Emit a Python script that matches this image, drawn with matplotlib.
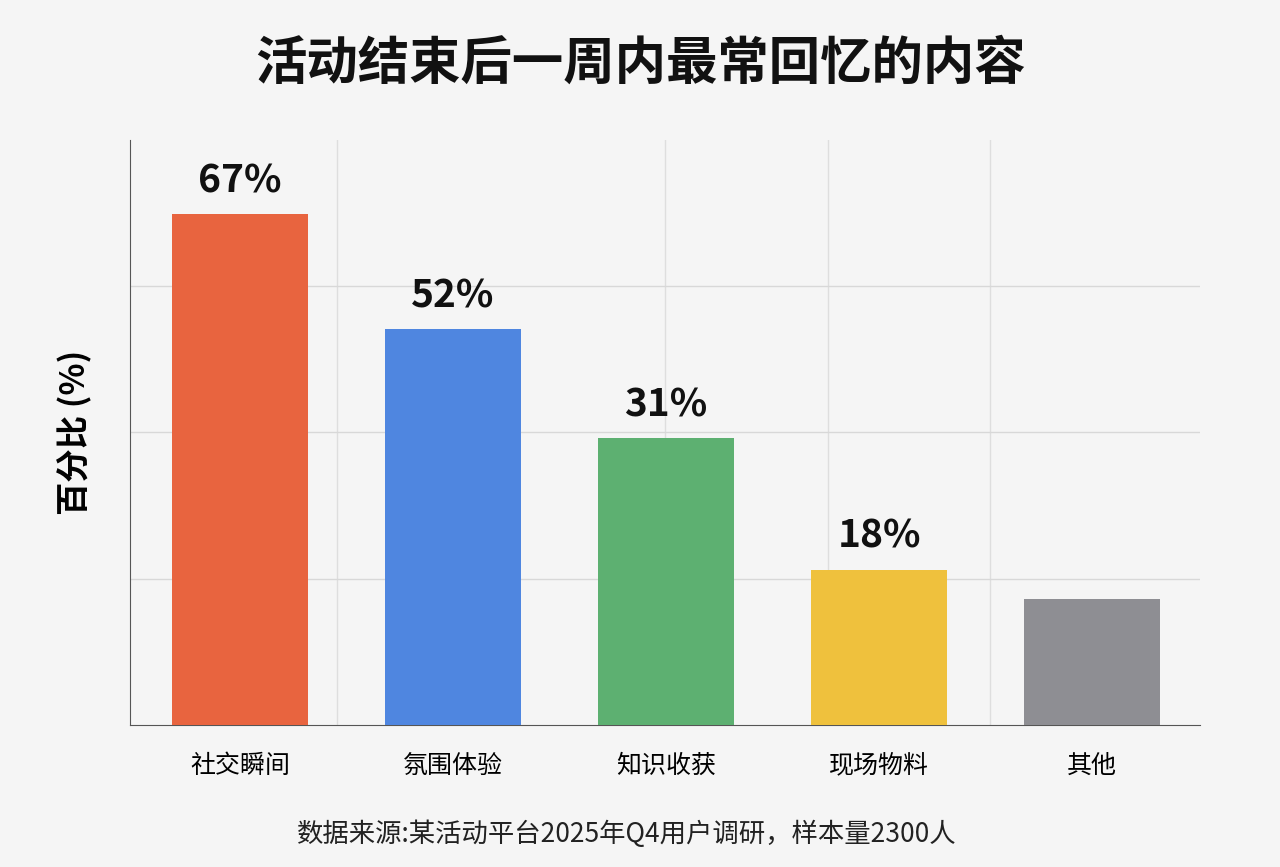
import matplotlib.pyplot as plt

plt.rcParams['font.family'] = ['Noto Sans CJK SC', 'DejaVu Sans']

categories = ['社交瞬间', '氛围体验', '知识收获', '现场物料', '其他']
heights = [67, 52, 37.6, 20.4, 16.5]   # bar heights as drawn
labels = ['67%', '52%', '31%', '18%', '']
colors = ['#E8643F', '#4F86E0', '#5DB071', '#EFC13D', '#8E8E93']

fig = plt.figure(figsize=(12.8, 8.67), dpi=100, facecolor='#F5F5F5')
ax = fig.add_axes([0.1016, 0.1638, 0.836, 0.675])
ax.set_facecolor('#F5F5F5')

x = range(len(categories))
bars = ax.bar(x, heights, width=0.64, color=colors, zorder=3)
for b, lab in zip(bars, labels):
    if lab:
        ax.text(b.get_x() + b.get_width() / 2, b.get_height() + 1.8, lab,
                ha='center', va='bottom', fontsize=28, fontweight='bold', color='#111111')

ax.set_xlim(-0.516, 4.507)
ax.set_ylim(0, 76.8)
ax.set_yticks([19.2, 38.4, 57.6])
ax.set_yticklabels([])
ax.tick_params(axis='y', length=0)
ax.grid(axis='y', color='#D8D8D8', linewidth=1, zorder=0)
for xv in [0.455, 1.995, 2.76, 3.52]:
    ax.axvline(xv, color='#DEDEDE', linewidth=1, zorder=0)

ax.set_xticks(list(x))
ax.set_xticklabels(categories, fontsize=18)
ax.tick_params(axis='x', length=0, pad=20)
for s in ['top', 'right']:
    ax.spines[s].set_visible(False)
ax.spines['left'].set_color('#555555')
ax.spines['bottom'].set_color('#555555')

ax.set_ylabel('百分比 (%)', fontsize=24, fontweight='bold', labelpad=24)
fig.text(0.5, 0.927, '活动结束后一周内最常回忆的内容', ha='center', va='center',
         fontsize=37, fontweight='bold', color='#111111')
fig.text(0.49, 0.038, '数据来源:某活动平台2025年Q4用户调研，样本量2300人', ha='center',
         va='center', fontsize=19, color='#222222')

fig.savefig('out.png', dpi=100, facecolor=fig.get_facecolor())
